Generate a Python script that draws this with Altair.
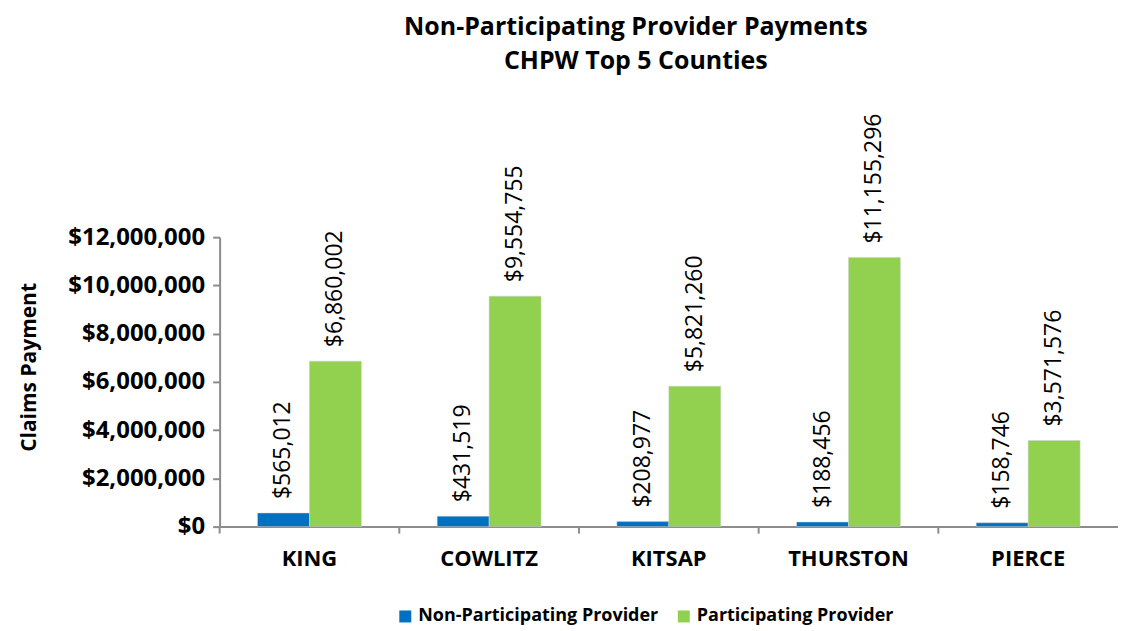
import altair as alt
import pandas as pd

counties = ["KING", "COWLITZ", "KITSAP", "THURSTON", "PIERCE"]
non_participating = [565012, 431519, 208977, 188456, 158746]
participating = [6860002, 9554755, 5821260, 11155296, 3571576]
series = ["Non-Participating Provider", "Participating Provider"]
colors = ["#0070C0", "#92D050"]
y_ticks = [0, 2000000, 4000000, 6000000, 8000000, 10000000, 12000000]

rows = []
for c, a, b in zip(counties, non_participating, participating):
    rows.append({"county": c, "series": series[0], "value": a})
    rows.append({"county": c, "series": series[1], "value": b})
df = pd.DataFrame(rows)
ticks_df = pd.DataFrame({"county": counties})

FONT = "Open Sans"
GRAY = "#8c8c8c"

x_axis = alt.Axis(title=None, ticks=False, labelAngle=0, labelFont=FONT, labelFontSize=22,
                  labelFontWeight="bold", labelColor="black", labelPadding=22,
                  domainColor=GRAY, domainWidth=2)
x_scale = alt.Scale(paddingInner=0, paddingOuter=0)
x_enc = alt.X("county:N", sort=counties, scale=x_scale, axis=x_axis)
xoff = alt.XOffset("series:N", sort=series, scale=alt.Scale(paddingInner=0, paddingOuter=0.73))
y_enc = alt.Y("value:Q", scale=alt.Scale(domain=[0, 12000000], nice=False),
              axis=alt.Axis(values=y_ticks, format="$,.0f", title="Claims Payment",
                            labelFont=FONT, labelFontSize=24, labelFontWeight="bold",
                            labelColor="black", labelPadding=8, tickSize=7, tickColor=GRAY,
                            tickWidth=2, domainColor=GRAY, domainWidth=2, grid=False,
                            titleFont=FONT, titleFontSize=21, titleFontWeight="bold",
                            titleColor="black", titleAngle=270, titleX=-190, titleY=130,
                            titleAlign="center", titleBaseline="middle"))

bars = alt.Chart(df).mark_bar(stroke="#d0d0d0", strokeWidth=0.5).encode(
    x=x_enc,
    xOffset=xoff,
    y=y_enc,
    color=alt.Color("series:N", sort=series,
                    scale=alt.Scale(domain=series, range=colors),
                    legend=alt.Legend(title=None, orient="none", legendX=177, legendY=371,
                                      direction="horizontal", symbolType="square",
                                      symbolSize=144, symbolStrokeWidth=0,
                                      labelFont=FONT, labelFontSize=18, labelLimit=0,
                                      labelFontWeight="bold", labelColor="black",
                                      columnPadding=16, labelOffset=4)),
)

labels = alt.Chart(df).mark_text(angle=270, align="left", baseline="middle", dx=14,
                                 font=FONT, fontSize=23, color="black").encode(
    x=x_enc,
    xOffset=xoff,
    y=alt.Y("value:Q"),
    text=alt.Text("value:Q", format="$,.0f"),
)

tick_marks = alt.Chart(ticks_df).mark_rule(color=GRAY, strokeWidth=2).encode(
    x=alt.X("county:N", sort=counties, scale=x_scale, axis=x_axis, bandPosition=0),
    y=alt.value(290),
    y2=alt.value(297),
)

chart = alt.layer(bars, labels, tick_marks).properties(
    width=900,
    height=290,
    title=alt.Title(["Non-Participating  Provider Payments", "CHPW Top 5 Counties"],
                    font=FONT, fontSize=25, fontWeight="bold", color="black",
                    anchor="middle", frame="group", offset=40, lineHeight=34, dx=-33),
    autosize=alt.AutoSizeParams(type="none"),
    padding={"left": 212, "top": 229, "right": 0, "bottom": 100},
).configure_view(stroke=None)

chart.save("out.html", embed_options={"renderer": "svg", "actions": False})
